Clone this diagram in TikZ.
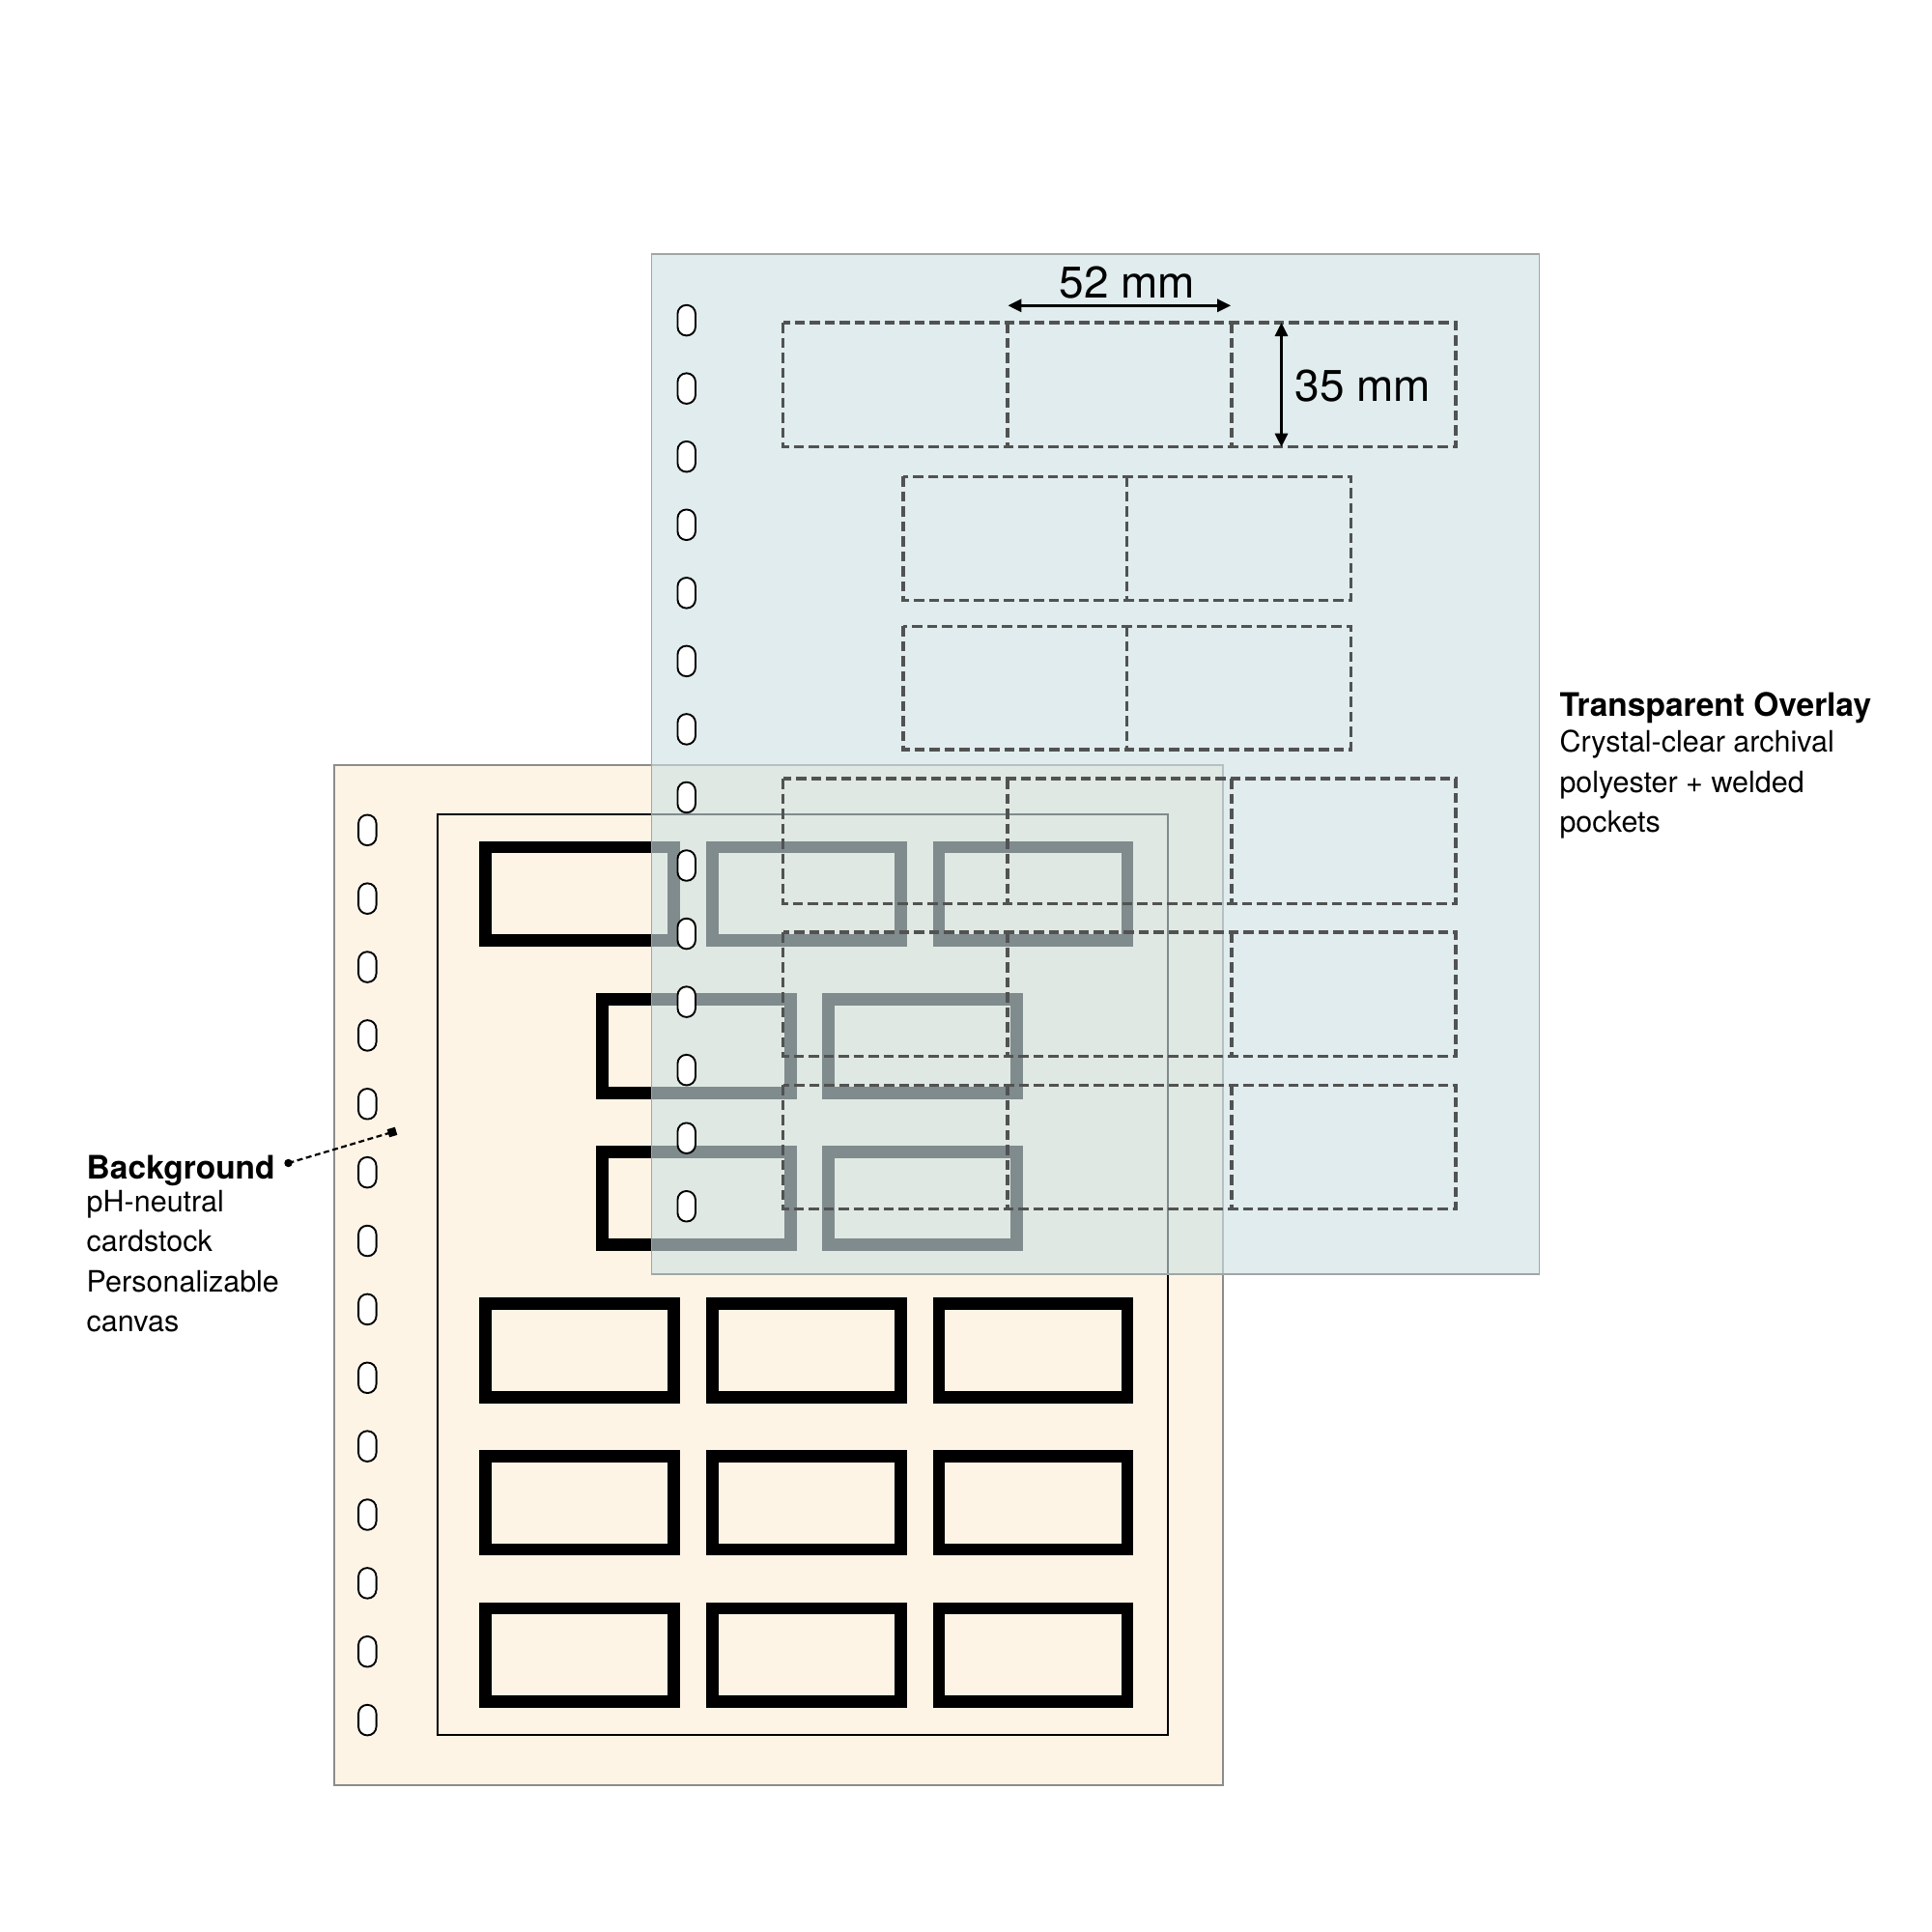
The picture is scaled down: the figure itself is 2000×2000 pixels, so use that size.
\documentclass[tikz,border=0pt]{standalone}
\usepackage{fontspec}
\setmainfont{TeX Gyre Heros}
\usetikzlibrary{arrows.meta}

\definecolor{cardstock}{RGB}{253,244,230}
\definecolor{film}{RGB}{206,225,226}
\definecolor{pocketline}{RGB}{82,82,82}
\definecolor{sheetedge}{RGB}{140,140,140}
\definecolor{filmedge}{RGB}{160,166,166}

\tikzset{
  hole/.style={draw=black, line width=1.9pt, fill=white, rounded corners=9pt},
  photoframe/.style={draw=black, line width=12.7pt},
  pocket/.style={draw=pocketline, line width=3.4pt, dash pattern=on 10.5pt off 5pt},
  dimarrow/.style={line width=3pt, {Triangle[length=14pt,width=13pt]}-{Triangle[length=14pt,width=13pt]}},
  titletext/.style={font=\fontsize{33.5}{40}\selectfont\bfseries, anchor=base west, inner sep=0pt},
  bodytext/.style={font=\fontsize{30.5}{40}\selectfont, anchor=base west, inner sep=0pt},
  dimtext/.style={font=\fontsize{46}{50}\selectfont, inner sep=0pt},
}

\begin{document}
\begin{tikzpicture}[x=1pt, y=-1pt]
  % canvas
  \fill[white] (0,0) rectangle (2000,2000);
  \useasboundingbox (0,0) rectangle (2000,2000);

  % ---------- background cardstock sheet ----------
  \draw[fill=cardstock, draw=sheetedge, line width=2pt] (346,792) rectangle (1265.5,1848);
  \draw[black, line width=1.8pt] (453,843) rectangle (1209.3,1796);
  \foreach \k in {0,...,13}
    \draw[hole] ({380.3-9.25},{859.3+70.87*\k-15.75}) rectangle ({380.3+9.25},{859.3+70.87*\k+15.75});

  % photo frames on the cardstock
  \foreach \cy in {925.3,1398.1,1555.7,1713.3}
    \foreach \cx in {600.3,835,1069.6}
      \draw[photoframe] ({\cx-97.5},{\cy-48.3}) rectangle ({\cx+97.5},{\cy+48.3});
  \foreach \cy in {1082.9,1240.5}
    \foreach \cx in {721.3,954.8}
      \draw[photoframe] ({\cx-97.5},{\cy-48.3}) rectangle ({\cx+97.5},{\cy+48.3});

  % ---------- transparent overlay sheet ----------
  \fill[film, fill opacity=0.62] (674.5,263) rectangle (1593.5,1319);
  \draw[filmedge, line width=1.8pt] (674.5,263) rectangle (1593.5,1319);
  \foreach \k in {0,...,13}
    \draw[hole] ({710.7-9.25},{331.6+70.55*\k-15.75}) rectangle ({710.7+9.25},{331.6+70.55*\k+15.75});

  % welded pockets: three-cell rows
  \foreach \ya/\yb in {334/462.7, 806/935.5, 965/1093.5, 1123.3/1251.7} {
    \draw[pocket] (810.7,\ya) rectangle (1507,\yb);
    \draw[pocket] (1042.8,\ya) -- (1042.8,\yb);
    \draw[pocket] (1274.9,\ya) -- (1274.9,\yb);
  }
  % welded pockets: two-cell rows
  \foreach \ya/\yb in {493.3/621.7, 648.3/776} {
    \draw[pocket] (935,\ya) rectangle (1398.3,\yb);
    \draw[pocket] (1166.5,\ya) -- (1166.5,\yb);
  }

  % pocket dimensions
  \coordinate (wL) at (1043.4,316.3);
  \coordinate (wR) at (1274.2,316.3);
  \coordinate (hT) at (1326.5,334);
  \coordinate (hB) at (1326.5,462.7);
  \draw[dimarrow] (wL) -- (wR);
  \draw[dimarrow] (hT) -- (hB);
  \node[dimtext, anchor=base] (wtext) at (1167,308.5) {52 mm};
  \node[dimtext, anchor=base west] (htext) at (1340.5,415) {35 mm};

  % ---------- labels ----------
  \node[titletext] (ovtitle) at (1614.3,741.7) {Transparent Overlay};
  \node[bodytext] (ov1) at (1614.3,778.3) {Crystal-clear archival};
  \node[bodytext] (ov2) at (1614.3,820) {polyester + welded};
  \node[bodytext] (ov3) at (1614.3,861.7) {pockets};

  \node[titletext] (bgtitle) at (89.5,1220) {Background};
  \node[bodytext] (bg1) at (89.5,1254) {pH-neutral};
  \node[bodytext] (bg2) at (89.5,1295.5) {cardstock};
  \node[bodytext] (bg3) at (89.5,1337) {Personalizable};
  \node[bodytext] (bg4) at (89.5,1378.5) {canvas};

  % leader from the label to the cardstock
  \coordinate (leadA) at (298.5,1204);
  \coordinate (leadB) at (406,1172);
  \draw[black, line width=2.2pt, dash pattern=on 6pt off 3.5pt] (leadA) -- (leadB);
  \fill[black] (leadA) circle (4.2pt);
  \node[fill=black, inner sep=0pt, minimum size=8.5pt, rotate=16.6] (leadEnd) at (leadB) {};
\end{tikzpicture}
\end{document}
